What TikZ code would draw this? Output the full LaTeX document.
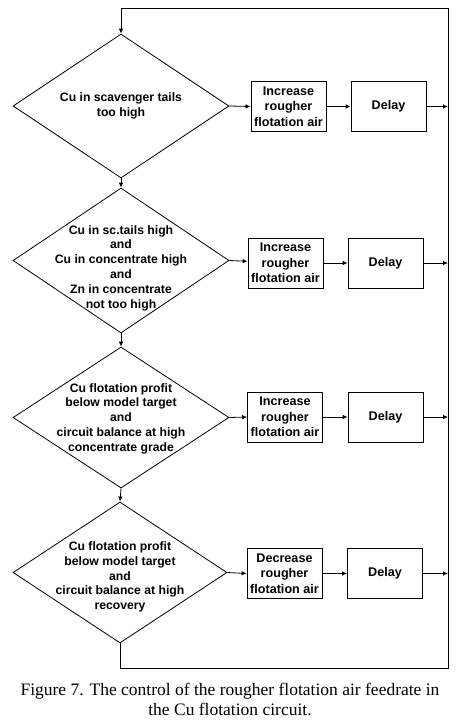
\documentclass[tikz,border=0pt]{standalone}
\usepackage{fontspec}
\setmainfont{Liberation Serif}
\setsansfont{Liberation Sans}
\usetikzlibrary{shapes.geometric,arrows.meta}
\begin{document}
\begin{tikzpicture}[x=1pt,y=-1pt,
  every path/.style={line width=0.8pt},
  dia/.style={draw,shape=diamond,minimum width=216pt,minimum height=144pt,inner sep=0pt},
  dtext/.style={font=\sffamily\bfseries\fontsize{12.2}{14.8}\selectfont,align=center,inner sep=0pt},
  actbox/.style={draw,minimum width=75pt,minimum height=50pt,inner sep=0pt,font=\sffamily\bfseries\fontsize{12.6}{15.3}\selectfont,align=center},
  delaybox/.style={draw,minimum width=75pt,minimum height=50pt,inner sep=0pt,font=\sffamily\bfseries\fontsize{12.6}{14}\selectfont},
  arr/.style={-{Latex[length=5pt,width=4.5pt]}}]
\useasboundingbox (0,0) rectangle (456,728);
% diamonds
\node[dia] (d1) at (121,106) {};
\node[dtext] (t1) at (121,106) {Cu in scavenger tails\\too high};
\node[dia,minimum height=145pt] (d2) at (121,260.5) {};
\node[dtext] (t2) at (121,268) {Cu in sc.tails high\\and\\Cu in concentrate high\\and\\Zn in concentrate\\not too high};
\node[dia,minimum height=141pt] (d3) at (121,417.5) {};
\node[dtext] (t3) at (121,418.5) {Cu flotation profit\\below model target\\and\\circuit balance at high\\concentrate grade};
\node[dia,minimum width=214pt,minimum height=141pt] (d4) at (120,572.5) {};
\node[dtext] (t4) at (120,577) {Cu flotation profit\\below model target\\and\\circuit balance at high\\recovery};
% action boxes
\node[actbox] (a1) at (288.5,106.5) {Increase\\rougher\\flotation air};
\node[delaybox] (y1) at (388.5,106.5) {Delay};
\node[actbox] (a2) at (285.5,263) {Increase\\rougher\\flotation air};
\node[delaybox] (y2) at (385.5,263) {Delay};
\node[actbox] (a3) at (285,417) {Increase\\rougher\\flotation air};
\node[delaybox] (y3) at (385.5,417) {Delay};
\node[actbox] (a4) at (284.5,573.5) {Decrease\\rougher\\flotation air};
\node[delaybox] (y4) at (385,573.5) {Delay};
% loop coordinates
\coordinate (bl) at (120,668);
\coordinate (br) at (448,668);
\coordinate (tr) at (448,8);
\coordinate (tl) at (121,8);
\coordinate (r1) at (448,106.5);
\coordinate (r2) at (448,263);
\coordinate (r3) at (448,417);
\coordinate (r4) at (448,573.5);
% connectors
\draw[arr] (d1.east) -- (a1.west);
\draw[arr] (a1.east) -- (y1.west);
\draw[arr] (y1.east) -- (r1);
\draw[arr] (d2.east) -- (a2);
\draw[arr] (a2.east) -- (y2.west);
\draw[arr] (y2.east) -- (r2);
\draw[arr] (d3.east) -- (a3.west);
\draw[arr] (a3.east) -- (y3.west);
\draw[arr] (y3.east) -- (r3);
\draw[arr] (d4.east) -- (a4.west);
\draw[arr] (a4.east) -- (y4.west);
\draw[arr] (y4.east) -- (r4);
\draw[arr] (d1.south) -- (d2.north);
\draw[arr] (d2.south) -- (d3.north);
\draw[arr] (d3.south) -- (d4.north);
\draw[arr] (d4.south) -- (bl) -- (br) -- (tr) -- (tl) -- (d1.north);
% caption
\node[font=\fontsize{17.5}{20}\selectfont,align=center,inner sep=0pt] (cap) at (230,699) {Figure 7. The control of the rougher flotation air feedrate in\\the Cu flotation circuit.};
\end{tikzpicture}
\end{document}
